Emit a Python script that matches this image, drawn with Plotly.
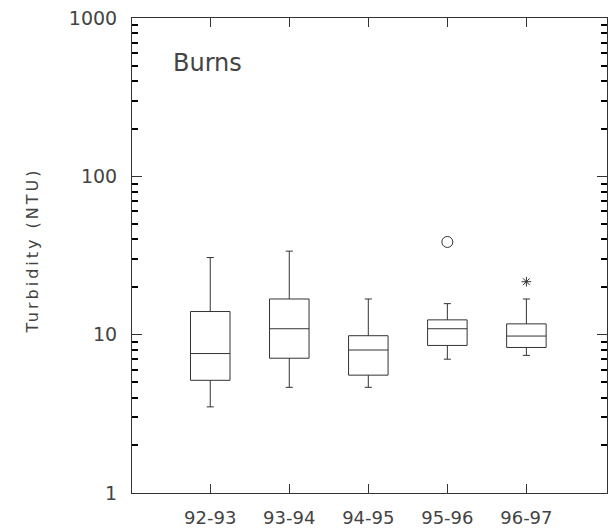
import plotly.graph_objects as go

# ---- data ----
years = ["92-93", "93-94", "94-95", "95-96", "96-97"]
lower_whisker = [3.5, 4.65, 4.65, 7.0, 7.4]
q1 = [5.15, 7.1, 5.55, 8.55, 8.3]
median = [7.6, 10.9, 8.0, 10.9, 9.8]
q3 = [14.0, 16.8, 9.85, 12.4, 11.7]
upper_whisker = [30.7, 33.7, 16.8, 15.7, 16.8]

outlier_years = ["95-96"]
outlier_values = [38.5]
extreme_years = ["96-97"]
extreme_values = [21.6]

site_label = "Burns"
y_title = "Turbidity (NTU)"
decades = [1, 10, 100]
minor_steps = [2, 3, 4, 5, 6, 7, 8, 9]

FONT = "DejaVu Sans"
TXT = "#444444"
LINE = "#333333"

fig = go.Figure()
fig.add_trace(go.Box(
    x=years, q1=q1, median=median, q3=q3,
    lowerfence=lower_whisker, upperfence=upper_whisker,
    boxpoints=False, width=0.5, whiskerwidth=0.18,
    fillcolor="white", line=dict(color=LINE, width=1),
    showlegend=False, hoverinfo="skip",
))
fig.add_trace(go.Scatter(
    x=outlier_years, y=outlier_values, mode="markers",
    marker=dict(symbol="circle-open", size=11, color=LINE, line=dict(width=1, color=LINE)),
    showlegend=False,
))
fig.add_trace(go.Scatter(
    x=extreme_years, y=extreme_values, mode="markers",
    marker=dict(symbol="asterisk-open", size=8, color=LINE, line=dict(width=1, color=LINE)),
    showlegend=False,
))

fig.add_annotation(
    text=site_label, xref="paper", yref="paper", x=0.083, y=0.906,
    xanchor="left", yanchor="middle", showarrow=False,
    font=dict(family=FONT, size=24, color=TXT),
)
fig.add_annotation(
    text='<span style="letter-spacing:3px">' + y_title + '</span>',
    xref="paper", yref="paper", x=-0.209, y=0.51,
    xanchor="center", yanchor="middle", textangle=-90, showarrow=False,
    font=dict(family=FONT, size=16, color=TXT),
)

fig.update_layout(
    width=608, height=531,
    margin=dict(l=132, r=1, t=18, b=38),
    paper_bgcolor="white", plot_bgcolor="white",
    font=dict(family=FONT, color=TXT),
)
fig.update_xaxes(
    type="category", range=[-0.99, 5.02],
    showline=True, linecolor=LINE, linewidth=1, mirror="ticks",
    ticks="inside", ticklen=9, tickcolor=LINE, tickwidth=1,
    showgrid=False, zeroline=False,
    tickfont=dict(family=FONT, size=18, color=TXT),
    ticklabelstandoff=8,
)
fig.update_yaxes(
    type="log", range=[0, 3], dtick=1,
    showline=True, linecolor=LINE, linewidth=1, mirror="ticks",
    ticks="inside", ticklen=10, tickcolor=LINE, tickwidth=1,
    minor=dict(ticks="inside", ticklen=6, tickcolor="black", tickwidth=1.5,
               tickmode="array", tickvals=[d * m for d in decades for m in minor_steps]),
    showgrid=False, zeroline=False,
    tickfont=dict(family=FONT, size=19, color=TXT),
    ticklabelstandoff=10,
)

fig.write_html("out.html")
